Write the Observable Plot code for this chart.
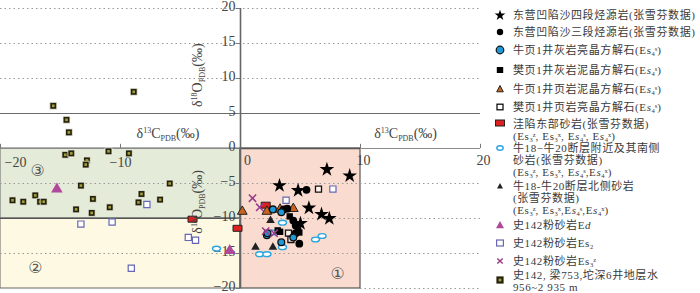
<!DOCTYPE html>
<html>
<head>
<meta charset="utf-8">
<script src="https://cdn.jsdelivr.net/npm/d3@7"></script>
<script src="https://cdn.jsdelivr.net/npm/@observablehq/plot@0.6"></script>
<style>
  html, body { margin: 0; padding: 0; background: #fff; }
  #wrap { position: relative; width: 700px; height: 293px; overflow: hidden; background: #fff; }
  #chart { position: absolute; left: 0; top: 0; }
  .lg { position: absolute; left: 0; top: 0; width: 700px; height: 293px; pointer-events: none;
        font-family: "Liberation Serif", "Noto Sans CJK SC", serif; font-size: 11px; color: #3a3a3a; letter-spacing: 0.6px; }
  .item { position: absolute; left: 513px; line-height: 12.3px; white-space: nowrap; }
  .mk { position: absolute; left: 494px; width: 12px; height: 12px; }
  sub, sup { font-size: 6.5px; line-height: 0; letter-spacing: 0; vertical-align: baseline; position: relative; }
  sub { top: 2px; }
  sup { top: -3px; }
</style>
</head>
<body>
<div id="wrap"><div id="chart"></div><div class="lg" id="legend"></div></div>
<script>
// ---------------- data (δ13C, δ18O) ----------------
const star4 = [[7.2,-3.0],[9.1,-3.9],[3.25,-5.3],[4.8,-6.0],[5.7,-8.5],[6.75,-9.4],[7.4,-10.0],[5.0,-10.7]];
const dot3 = [[5.5,-5.9],[3.6,-8.7],[3.9,-8.6],[4.4,-10.3],[4.6,-11.0],[4.6,-12.1],[4.9,-13.6]];
const niuLimeSparry = [[2.7,-8.7],[3.4,-9.1],[4.4,-12.7],[2.2,-12.4],[3.4,-13.4],[2.25,-12.1]];
const fanLimeMicrite = [[4.1,-9.7],[4.8,-11.4],[4.9,-12.0],[3.1,-11.7],[3.3,-11.9]];
const niuShaleMicrite = [[0.15,-9.0],[2.2,-9.0],[3.3,-8.7],[4.4,-8.6]];
const fanShaleSparry = [[6.5,-5.8],[4.0,-12.1],[4.2,-13.0]];
const eastSand = [[2.1,-8.1],[-4.0,-10.1],[-0.25,-11.4]];
const niuSouthSand = [[3.5,-10.6],[2.7,-12.0],[3.5,-14.1],[6.25,-13.0],[6.8,-12.5],[1.6,-15.1],[2.2,-15.1],[-2.0,-14.3]];
const niuNorthSand = [[2.5,-10.3],[1.25,-14.1],[2.7,-14.1]];
const shiEd = [[-15.3,-5.8],[-0.9,-14.6]];
const shiEs2 = [[-7.8,-8.0],[-13.3,-10.8],[-10.7,-10.5],[-4.35,-12.7],[-3.75,-13.1],[-9.1,-17.1],[3.8,-7.4],[7.7,-5.8]];
const shiEs3z = [[1.0,-7.1],[1.6,-8.4],[2.1,-11.8],[2.8,-12.1]];
const formationWater = [[-8.9,8.1],[-15.6,6.1],[-14.5,4.1],[-14.3,2.3],[-11.0,-0.4],[-14.6,-0.9],[-14.1,-0.7],[-9.3,-0.7],
  [-12.8,-1.7],[-12.9,-2.3],[-13.3,-5.3],[-5.9,-5.0],[-17.1,-6.7],[-8.25,-6.5],[-19.0,-7.4],[-18.1,-7.6],[-16.7,-7.6],
  [-16.4,-7.6],[-12.3,-7.2],[-6.7,-7.3],[-8.5,-7.7],[-10.9,-8.4],[-13.7,-8.7],[-12.4,-9.2]];

// axes / regions
const xTicks = [-20, -10, 0, 10, 20];
const yTicks = [20, 15, 10, 5, 0, -5, -10, -15, -20];
const region3 = [{x1: -20, x2: 0, y1: -10, y2: 0}];
const region2 = [{x1: -20, x2: 0, y1: -20, y2: -10}];
const region1 = [{x1: 0, x2: 10, y1: -20, y2: 0}];
const zoneLabels = [{x: -16.9, y: -3.2, t: "③"}, {x: -17.1, y: -17.0, t: "②"}, {x: 8.1, y: -17.9, t: "①"}];

const legendLabels = [
  "东营凹陷沙四段烃源岩(张雪芬数据)",
  "东营凹陷沙三段烃源岩(张雪芬数据)",
  "牛页1井灰岩亮晶方解石(Es<sub>4</sub><sup>s</sup>)",
  "樊页1井灰岩泥晶方解石(E<i>s</i><sub>4</sub><sup>s</sup>)",
  "牛页1井页岩泥晶方解石(E<i>s</i><sub>4</sub><sup>s</sup>)",
  "樊页1井页岩亮晶方解石(E<i>s</i><sub>4</sub><sup>s</sup>)",
  "洼陷东部砂岩(张雪芬数据)<br>(Es<sub>3</sub><sup>z</sup>, Es<sub>3</sub><sup>x</sup>, E<i>s</i><sub>4</sub><sup>s</sup>, E<i>s</i><sub>4</sub><sup>x</sup>)",
  "牛18−牛20断层附近及其南侧<br>砂岩(张雪芬数据)<br>(Es<sub>3</sub><sup>z</sup>, Es<sub>3</sub><sup>x</sup>, E<i>s</i><sub>4</sub><sup>s</sup>,E<i>s</i><sub>4</sub><sup>x</sup>)",
  "牛18-牛20断层北侧砂岩<br>(张雪芬数据)<br>(Es<sub>3</sub><sup>z</sup>, Es<sub>3</sub><sup>x</sup>,E<i>s</i><sub>4</sub><sup>s</sup>,E<i>s</i><sub>4</sub><sup>x</sup>)",
  "史142粉砂岩E<i>d</i>",
  "史142粉砂岩Es<sub>2</sub>",
  "史142粉砂岩Es<sub>3</sub><sup>z</sup>",
  "史142, 梁753,坨深6井地层水<br>956~2 935 m"
];

// ---------------- custom symbols ----------------
const rectSymbol = {draw(ctx) { ctx.moveTo(-4.5, -3); ctx.lineTo(4.5, -3); ctx.lineTo(4.5, 3); ctx.lineTo(-4.5, 3); ctx.closePath(); }};
const ellipseSymbol = {draw(ctx) {
  const rx = 4, ry = 2.4, k = 0.5523;
  ctx.moveTo(rx, 0);
  ctx.bezierCurveTo(rx, ry * k, rx * k, ry, 0, ry);
  ctx.bezierCurveTo(-rx * k, ry, -rx, ry * k, -rx, 0);
  ctx.bezierCurveTo(-rx, -ry * k, -rx * k, -ry, 0, -ry);
  ctx.bezierCurveTo(rx * k, -ry, rx, -ry * k, rx, 0);
  ctx.closePath();
}};

const px = d => d[0], py = d => d[1];
const serif = "Liberation Serif";
const grid = {stroke: "#9a9a9a", strokeDasharray: "1.5,3", strokeWidth: 1};

const plot = Plot.plot({
  width: 482, height: 293,
  marginLeft: 0, marginRight: 2, marginTop: 8, marginBottom: 5,
  x: {domain: [-20, 20], axis: null},
  y: {domain: [-20, 20], axis: null},
  style: {overflow: "visible", background: "transparent"},
  marks: [
    Plot.rect(region3, {x1: "x1", x2: "x2", y1: "y1", y2: "y2", fill: "#e4ebd8", stroke: "#666", strokeWidth: 1}),
    Plot.rect(region2, {x1: "x1", x2: "x2", y1: "y1", y2: "y2", fill: "#fdf9e2", stroke: "#666", strokeWidth: 1}),
    Plot.rect(region1, {x1: "x1", x2: "x2", y1: "y1", y2: "y2", fill: "#f9dccf", stroke: "#555", strokeWidth: 1.2}),
    // dotted grid
    Plot.ruleY([20, 15, 10, -5, -15], {x1: -20, x2: 20, ...grid}),
    Plot.ruleY([-10], {x1: 0, x2: 20, ...grid}),
    Plot.ruleY([-20], {x1: 10, x2: 20, ...grid}),
    // solid reference lines
    Plot.ruleY([5], {x1: -20, x2: 20, stroke: "#6a6a6a", strokeWidth: 1.2}),
    Plot.ruleY([0], {x1: -20, x2: 20, stroke: "#8a8a8a", strokeWidth: 1.2}),
    Plot.ruleY([0], {x1: 0, x2: 10, stroke: "#555", strokeWidth: 1.3}),
    Plot.ruleY([-10], {x1: -20, x2: 0, stroke: "#555", strokeWidth: 1.2}),
    Plot.ruleX([0], {y1: -20, y2: 20, stroke: "#666", strokeWidth: 1.6}),
    // ticks
    Plot.ruleX([-20, -10, 10, 20], {y1: 0, y2: 0.6, stroke: "#777"}),
    Plot.ruleY(yTicks, {x1: -0.35, x2: 0, stroke: "#777"}),
    // tick labels
    Plot.text(yTicks, {x: 0, y: d => d, text: d => d < 0 ? "−" + (-d) : String(d), textAnchor: "end", dx: -5, dy: -2, fontSize: 14, fontFamily: serif, fill: "#444"}),
    Plot.text([-20], {x: d => d, y: 0, text: d => "−" + (-d), textAnchor: "start", dx: 4, dy: 14, fontSize: 14, fontFamily: serif, fill: "#444"}),
    Plot.text([-10], {x: d => d, y: 0, text: d => "−" + (-d), dx: 0, dy: 14, fontSize: 14, fontFamily: serif, fill: "#444"}),
    Plot.text([0], {x: d => d, y: 0, text: d => String(d), dx: 7, dy: 12, fontSize: 14, fontFamily: serif, fill: "#444"}),
    Plot.text([10, 20], {x: d => d, y: 0, text: d => String(d), dx: 3, dy: 12, fontSize: 14, fontFamily: serif, fill: "#444"}),
    Plot.text(zoneLabels, {x: "x", y: "y", text: "t", fontSize: 16, fontFamily: "DejaVu Sans", fill: "#555"}),
    // data
    Plot.dot(formationWater, {x: px, y: py, symbol: "square", r: 3.9, fill: "#23230c", stroke: "#f4f4ea", strokeWidth: 0.8}),
    Plot.dot(formationWater, {x: px, y: py, symbol: "square", r: 1.5, fill: "#a39d3a"}),
    Plot.dot(shiEs2, {x: px, y: py, symbol: "square", r: 3.5, fill: "#ffffff", stroke: "#6767b5", strokeWidth: 1.2}),
    Plot.dot(shiEd, {x: px, y: py, symbol: "triangle", r: 4.3, fill: "#b0479b"}),
    Plot.dot(eastSand, {x: px, y: py, symbol: rectSymbol, fill: "#e01f1f", stroke: "#222", strokeWidth: 1}),
    Plot.dot(niuSouthSand, {x: px, y: py, symbol: ellipseSymbol, fill: "#ffffff", stroke: "#2aa5e0", strokeWidth: 1.4}),
    Plot.dot(niuNorthSand, {x: px, y: py, symbol: "triangle", r: 3.2, fill: "#222"}),
    Plot.dot(niuShaleMicrite, {x: px, y: py, symbol: "triangle", r: 3.6, fill: "#c8641e", stroke: "#222", strokeWidth: 1}),
    Plot.dot(fanShaleSparry, {x: px, y: py, symbol: "square", r: 3.4, fill: "#fdf2ec", stroke: "#111", strokeWidth: 1.3}),
    Plot.dot(fanLimeMicrite, {x: px, y: py, symbol: "square", r: 3.6, fill: "#000"}),
    Plot.dot(dot3, {x: px, y: py, r: 3.9, fill: "#000"}),
    Plot.dot(niuLimeSparry, {x: px, y: py, r: 3.4, fill: "#1e9ad8", stroke: "#111", strokeWidth: 1.3}),
    Plot.dot(shiEs3z, {x: px, y: py, symbol: "times", r: 3.4, stroke: "#9a3c8e", strokeWidth: 1.6}),
    Plot.dot(star4, {x: px, y: py, symbol: "star", r: 4.6, fill: "#000"})
  ]
});
document.getElementById("chart").appendChild(plot);

// axis titles with super/subscripts, placed through the plot's scales
const sx = plot.scale("x"), sy = plot.scale("y");
const svg = d3.select(plot);
function cLabel(xv, yv) {
  const t = svg.append("text").attr("x", sx.apply(xv)).attr("y", sy.apply(yv))
    .attr("text-anchor", "middle").attr("font-family", serif).attr("font-size", 14).attr("fill", "#444");
  t.append("tspan").text("δ");
  t.append("tspan").attr("dy", -5).attr("font-size", 8).text("13");
  t.append("tspan").attr("dy", 5).text("C");
  t.append("tspan").attr("dy", 3).attr("font-size", 8).text("PDB");
  t.append("tspan").attr("dy", -3).text("(‰)");
}
function oLabel(xv, yv) {
  const t = svg.append("text").attr("transform", `translate(${sx.apply(xv)},${sy.apply(yv)}) rotate(-90)`)
    .attr("text-anchor", "middle").attr("font-family", serif).attr("font-size", 14).attr("fill", "#444");
  t.append("tspan").text("δ");
  t.append("tspan").attr("dy", -5).attr("font-size", 8).text("18");
  t.append("tspan").attr("dy", 5).text("O");
  t.append("tspan").attr("dy", 3).attr("font-size", 8).text("PDB");
  t.append("tspan").attr("dy", -3).text("(‰)");
}
cLabel(-6.0, 1.4);
cLabel(13.8, 1.4);
oLabel(-3.2, 10.4);
oLabel(-3.2, -7.7);

// ---------------- legend ----------------
const legendY = [15, 32, 50, 70, 89, 107, 123, 148, 186, 225, 243, 261, 280];
const legendTextY = [15, 32, 50, 70, 89, 107, 124, 148, 186, 225, 243, 261, 275];
const legendMarkers = [
  `<path d="M6,0.8 L7.3,4.6 L11.3,4.6 L8.1,7 L9.3,10.9 L6,8.5 L2.7,10.9 L3.9,7 L0.7,4.6 L4.7,4.6Z" fill="#000"/>`,
  `<circle cx="6" cy="6" r="3.2" fill="#000"/>`,
  `<circle cx="6" cy="6" r="3.8" fill="#1e9ad8" stroke="#111" stroke-width="1.2"/>`,
  `<rect x="2.8" y="3" width="6.4" height="6" fill="#000"/>`,
  `<path d="M6,2.5 L9.3,8.8 L2.7,8.8Z" fill="#c8641e" stroke="#222" stroke-width="1"/>`,
  `<rect x="3" y="3.2" width="6" height="5.6" fill="#fff" stroke="#111" stroke-width="1.3"/>`,
  `<rect x="1.5" y="3" width="9" height="6" fill="#e01f1f" stroke="#222" stroke-width="1"/>`,
  `<ellipse cx="6" cy="6" rx="3.2" ry="2.3" fill="#fff" stroke="#2aa5e0" stroke-width="1.4"/>`,
  `<path d="M6,3 L9,8.6 L3,8.6Z" fill="#222"/>`,
  `<path d="M6,2 L10,9.2 L2,9.2Z" fill="#b0479b"/>`,
  `<rect x="2.6" y="3" width="6.8" height="6" fill="#fff" stroke="#6767b5" stroke-width="1.2"/>`,
  `<path d="M3.3,3.5 L8.7,8.5 M8.7,3.5 L3.3,8.5" stroke="#9a3c8e" stroke-width="1.5"/>`,
  `<rect x="2.4" y="2.4" width="7.2" height="7.2" fill="#23230c"/><rect x="4.6" y="4.6" width="2.8" height="2.8" fill="#a39d3a"/>`
];
const lg = document.getElementById("legend");
legendLabels.forEach((lab, i) => {
  const m = document.createElement("div");
  m.className = "mk";
  m.style.top = (legendY[i] - 6) + "px";
  m.innerHTML = `<svg width="12" height="12" viewBox="0 0 12 12">${legendMarkers[i]}</svg>`;
  lg.appendChild(m);
  const t = document.createElement("div");
  t.className = "item";
  t.style.top = (legendTextY[i] - 6.5) + "px";
  t.innerHTML = lab;
  lg.appendChild(t);
});
</script>
</body>
</html>
